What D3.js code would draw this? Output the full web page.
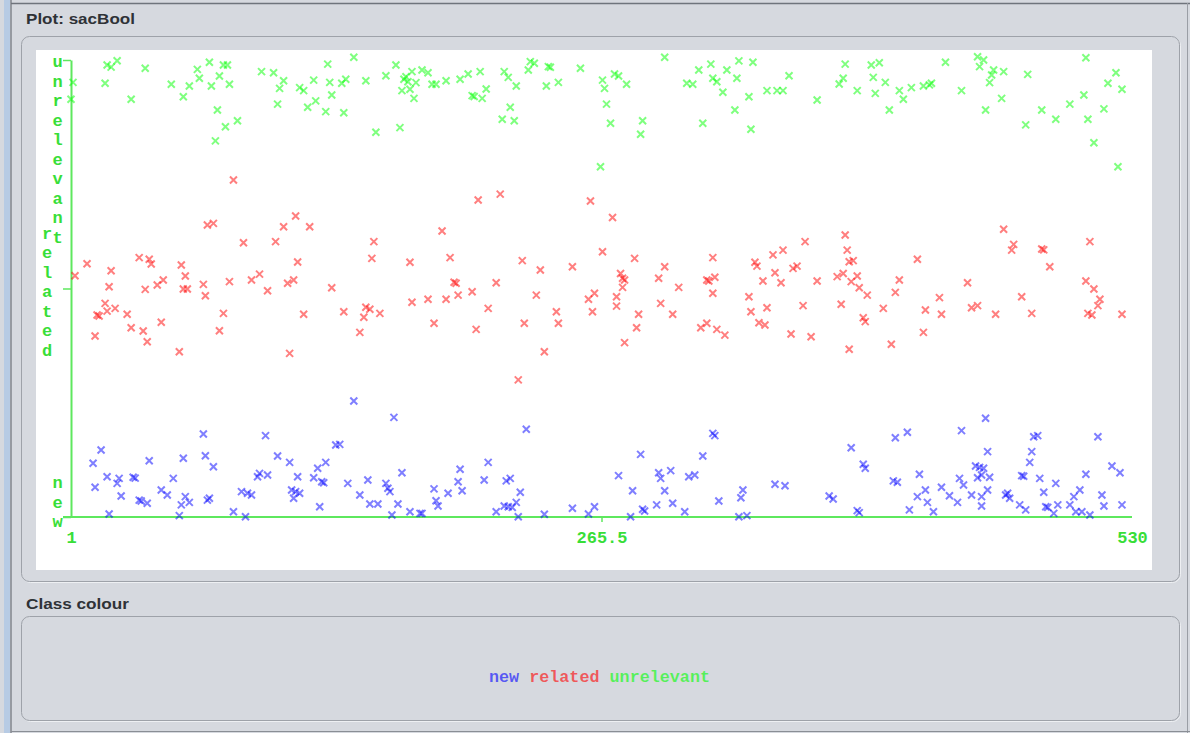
<!DOCTYPE html>
<html>
<head>
<meta charset="utf-8">
<script src="https://cdn.jsdelivr.net/npm/d3@7"></script>
<style>
  html, body { margin: 0; padding: 0; background: #d6d9df; }
  svg { display: block; }
</style>
</head>
<body>
<svg id="chart" width="1190" height="733"></svg>
<script>
// Class values on the Y attribute and instance number on X
const categories = ["new", "related", "unrelevant"];
const xTicks = [1, 265.5, 530];
const plotTitle = "Plot: sacBool";
const legendTitle = "Class colour";

// [instance number, jittered class value]
const newPoints = [
  [16,0.293],[12,0.235],[19,0.176],[13,0.130],[25,0.169],[24,0.147],[26,0.092],[20,0.013],[32,0.174],[33,0.170],
  [35,0.074],[36,0.070],[39,0.060],[40,0.246],[46,0.118],[49,0.096],[52,0.169],[55,0.006],[57,0.257],[58,0.089],
  [56,0.053],[60,0.064],[67,0.363],[68,0.268],[72,0.220],[69,0.074],[70,0.082],[82,0.023],[86,0.111],[89,0.104],
  [91,0.096],[88,0.001],[94,0.176],[95,0.191],[99,0.184],[98,0.356],[104,0.267],[110,0.239],[114,0.176],[111,0.118],
  [113,0.111],[115,0.104],[112,0.082],[125,0.045],[122,0.172],[126,0.154],[127,0.150],[124,0.213],[128,0.239],[133,0.315],
  [142,0.508],[162,0.436],[135,0.318],[139,0.147],[149,0.162],[145,0.096],[150,0.057],[154,0.057],[158,0.147],[159,0.126],
  [160,0.111],[166,0.194],[164,0.057],[161,0.009],[170,0.023],[175,0.016],[176,0.016],[182,0.123],[183,0.071],[184,0.048],
  [189,0.104],[195,0.209],[194,0.154],[196,0.115],[209,0.239],[207,0.162],[218,0.158],[220,0.169],[213,0.023],[217,0.048],
  [219,0.045],[221,0.042],[223,0.064],[225,0.108],[224,0.001],[228,0.384],[237,0.012],[251,0.038],[259,0.013],[262,0.045],
  [274,0.181],[285,0.274],[281,0.115],[280,0.001],[286,0.034],[287,0.026],[293,0.053],[294,0.194],[295,0.169],[300,0.203],
  [297,0.115],[301,0.060],[307,0.023],[309,0.176],[312,0.184],[316,0.267],[321,0.366],[322,0.356],[324,0.070],[336,0.118],
  [335,0.084],[334,0.001],[338,0.006],[352,0.143],[357,0.137],[379,0.092],[381,0.079],[390,0.303],[396,0.231],[397,0.213],
  [393,0.028],[394,0.019],[457,0.432],[445,0.378],[418,0.371],[412,0.347],[481,0.351],[483,0.356],[513,0.351],[458,0.286],
  [480,0.286],[479,0.239],[424,0.187],[413,0.152],[411,0.158],[452,0.223],[454,0.217],[456,0.213],[455,0.184],[453,0.172],
  [459,0.174],[475,0.181],[476,0.178],[484,0.169],[492,0.147],[507,0.187],[520,0.223],[524,0.194],[435,0.130],[444,0.169],
  [446,0.140],[427,0.118],[423,0.089],[428,0.064],[439,0.093],[443,0.064],[450,0.096],[455,0.089],[458,0.118],[455,0.048],
  [467,0.096],[468,0.104],[469,0.082],[419,0.031],[431,0.023],[474,0.053],[477,0.031],[486,0.108],[487,0.045],[488,0.042],
  [493,0.053],[491,0.016],[499,0.053],[501,0.089],[504,0.118],[502,0.023],[505,0.023],[509,0.009],[515,0.096],[516,0.048],
  [525,0.053]
];

const relatedPoints = [
  [3,1.056],[9,1.108],[21,1.078],[20,1.008],[35,1.135],[40,1.128],[41,1.107],[38,0.996],[44,1.015],[47,1.037],
  [56,1.103],[58,1.055],[57,0.998],[59,0.998],[67,1.018],[68,0.968],[69,1.278],[72,1.285],[82,1.475],[80,1.030],
  [87,1.200],[91,1.037],[95,1.063],[99,0.990],[103,1.205],[107,1.270],[113,1.317],[120,1.270],[114,1.116],[109,1.023],
  [112,1.037],[131,1.003],[18,0.935],[14,0.884],[15,0.880],[19,0.901],[23,0.913],[29,0.887],[31,0.828],[37,0.814],
  [39,0.767],[46,0.852],[13,0.792],[55,0.723],[77,0.891],[75,0.815],[110,0.716],[117,0.887],
  [137,0.898],[145,0.808],[147,0.874],[148,0.918],[150,0.909],[155,0.891],[151,1.132],[152,1.205],[170,1.115],[171,0.940],
  [179,0.953],[182,0.848],[186,1.252],[188,0.953],[190,1.135],[192,1.027],[193,1.023],[194,0.971],[201,0.986],[203,0.821],
  [204,1.387],[209,0.913],[213,1.025],[215,1.413],[224,0.600],[226,1.122],[227,0.848],[233,0.971],[235,1.081],[237,0.723],
  [243,0.898],[244,0.848],[251,1.095],[260,1.383],[259,0.953],[262,0.979],[261,0.898],[266,1.161],
  [271,1.311],[282,1.132],[275,1.066],[276,1.045],[277,1.037],[276,1.005],[273,0.964],[273,0.923],[284,0.887],[283,0.828],
  [277,0.763],[297,1.095],[294,1.045],[304,1.005],[295,0.935],[301,0.887],[321,1.135],[318,1.037],[319,1.033],[322,1.049],
  [321,0.979],[315,0.828],[318,0.848],[323,0.821],[327,0.796],[342,1.115],[343,1.098],[351,1.147],[356,1.168],[352,1.069],
  [346,1.033],[355,1.025],[339,0.964],[340,0.898],[348,0.916],[344,0.850],[347,0.840],[360,0.801],[361,1.088],[363,1.098],
  [367,1.205],[373,1.033],[366,0.925],[370,0.789],[387,1.234],[388,1.168],[389,1.117],[391,1.122],[383,1.052],[386,1.066],
  [390,1.030],[393,1.055],[394,1.003],[398,0.971],[385,0.931],[396,0.872],[397,0.855],[389,0.734],
  [406,0.913],[410,0.756],[412,0.983],[414,1.037],[423,1.128],[427,0.906],[426,0.808],[434,0.960],[435,0.887],[448,1.025],
  [450,0.916],[453,0.925],[462,0.887],[466,1.259],[471,1.193],[470,1.168],[475,0.964],[480,0.891],[485,1.173],[486,1.169],
  [489,1.095],[509,1.205],[507,1.033],[511,0.998],[514,0.953],[513,0.925],[508,0.891],[510,0.884],[525,0.887]
];

const unrelevantPoints = [
  [19,1.978],[21,1.969],[24,1.997],[2,1.902],[1,1.828],[18,1.898],[38,1.964],[31,1.828],[51,1.894],[57,1.839],
  [60,1.886],[64,1.959],[65,1.920],[70,1.990],[71,1.886],[75,1.930],[77,1.978],[79,1.978],[80,1.894],[74,1.781],
  [78,1.708],[84,1.734],[73,1.646],[96,1.949],[102,1.944],[107,1.909],[105,1.876],[104,1.807],[115,1.879],[117,1.866],
  [122,1.912],[119,1.793],[123,1.821],[129,1.982],[130,1.902],[131,1.847],[128,1.774],
  [142,2.012],[136,1.898],[138,1.916],[137,1.769],[148,1.909],[153,1.684],[158,1.931],[163,1.978],[167,1.916],[168,1.927],
  [169,1.905],[171,1.949],[173,1.901],[166,1.866],[170,1.872],[172,1.832],[165,1.704],[176,1.956],[179,1.944],[181,1.894],
  [183,1.894],[188,1.909],[195,1.916],[199,1.939],[205,1.949],[201,1.844],[202,1.840],[208,1.873],[206,1.832],[217,1.949],
  [219,1.924],[223,1.886],[220,1.793],[216,1.741],[222,1.734],[229,1.956],[230,1.993],[232,1.986],[239,1.971],[240,1.968],
  [238,1.886],[244,1.902],[255,1.964],[266,1.912],[267,1.876],[268,1.807],[265,1.533],
  [272,1.939],[274,1.930],[278,1.894],[270,1.723],[286,1.734],[285,1.675],[297,2.012],[308,1.898],[311,1.894],[314,1.956],
  [320,1.982],[321,1.920],[323,1.905],[326,1.859],[328,1.956],[333,1.920],[334,1.996],[341,1.990],[339,1.839],[332,1.781],
  [316,1.723],[340,1.697],[348,1.866],[353,1.866],[356,1.866],[359,1.931],[373,1.825],[387,1.982],[386,1.920],[384,1.895],
  [393,1.866],[400,1.978],[401,1.924],[402,1.854],
  [404,1.988],[407,1.902],[409,1.781],[414,1.866],[416,1.828],[420,1.879],[426,1.886],[429,1.891],[430,1.898],[437,1.990],
  [445,1.866],[453,2.014],[456,2.000],[454,1.971],[461,1.956],[460,1.934],[459,1.901],[466,1.949],[465,1.832],[457,1.781],
  [478,1.937],[485,1.781],[477,1.716],[492,1.741],[499,1.807],[507,2.010],[506,1.847],[508,1.741],[511,1.638],[516,1.786],
  [518,1.898],[522,1.944],[525,1.872],[523,1.533]
];

const classColours = { "new": "#0000ff", "related": "#ff0000", "unrelevant": "#00ff00" };
const axisGreen = "#5ee85e";
const textGreen = "#38de38";

const svg = d3.select("#chart");

// ---- window chrome ----
svg.append("rect").attr("x", 4).attr("y", 0).attr("width", 6).attr("height", 733).attr("fill", "#b7cbe4");
svg.append("line").attr("x1", 11).attr("x2", 11).attr("y1", 0).attr("y2", 733).attr("stroke", "#80858d").attr("stroke-width", 1.5);
svg.append("line").attr("x1", 11).attr("x2", 1190).attr("y1", 3.5).attr("y2", 3.5).attr("stroke", "#6f747c").attr("stroke-width", 1.5);
svg.append("line").attr("x1", 1187.5).attr("x2", 1187.5).attr("y1", 3).attr("y2", 733).attr("stroke", "#9a9ea5");
svg.append("line").attr("x1", 11).attr("x2", 1190).attr("y1", 731.5).attr("y2", 731.5).attr("stroke", "#8a8e95");

function panel(x, y, w, h) {
  svg.append("rect").attr("x", x + 1).attr("y", y + 1).attr("width", w).attr("height", h)
    .attr("rx", 8).attr("fill", "none").attr("stroke", "#eef0f3");
  svg.append("rect").attr("x", x).attr("y", y).attr("width", w).attr("height", h)
    .attr("rx", 8).attr("fill", "#d6d9df").attr("stroke", "#9ea2a9");
}

panel(21.5, 36.5, 1158, 545);
panel(21.5, 616.5, 1158, 104);

svg.append("text").attr("x", 26).attr("y", 24)
  .attr("font-family", "'Liberation Sans', Arial, sans-serif").attr("font-weight", "bold")
  .attr("font-size", 15).attr("fill", "#2f3237")
  .attr("textLength", 109).attr("lengthAdjust", "spacingAndGlyphs")
  .text(plotTitle);

svg.append("text").attr("x", 26).attr("y", 609)
  .attr("font-family", "'Liberation Sans', Arial, sans-serif").attr("font-weight", "bold")
  .attr("font-size", 15).attr("fill", "#2f3237")
  .attr("textLength", 103).attr("lengthAdjust", "spacingAndGlyphs")
  .text(legendTitle);

// white plotting canvas
svg.append("rect").attr("x", 36).attr("y", 50).attr("width", 1116).attr("height", 520).attr("fill", "#ffffff");

// ---- scales ----
const x = d3.scaleLinear().domain([1, 530]).range([71, 1132]);
const y = d3.scaleLinear().domain([0, 2]).range([517, 60]);

const monoFont = "'Liberation Mono', 'DejaVu Sans Mono', monospace";

// ---- axes ----
const xAxis = svg.append("g").attr("transform", `translate(0,${y(0)})`)
  .call(d3.axisBottom(x).tickValues(xTicks).tickSize(5).tickPadding(9).tickFormat(d => String(d)));
xAxis.select(".domain").remove();
xAxis.append("line").attr("x1", x(1) - 8).attr("x2", x(530)).attr("y1", 0).attr("y2", 0)
  .attr("stroke", axisGreen).attr("stroke-width", 2);
xAxis.selectAll(".tick line").attr("stroke", axisGreen).attr("stroke-width", 1.5)
  .attr("opacity", d => (d === xTicks[1] ? 1 : 0));
xAxis.selectAll(".tick text").attr("fill", textGreen).attr("font-family", monoFont)
  .attr("font-size", 17).attr("font-weight", "bold");

const yAxis = svg.append("g").attr("transform", `translate(${x(1)},0)`)
  .call(d3.axisLeft(y).tickValues([0, 1, 2]).tickSize(8).tickSizeOuter(0).tickFormat(""));
yAxis.select(".domain").attr("stroke", axisGreen).attr("stroke-width", 2);
yAxis.selectAll(".tick line").attr("stroke", axisGreen).attr("stroke-width", 1.5);

// stacked class labels beside the Y axis
const step = 19.5;
const labelSpecs = [
  { name: categories[2], cx: 57.5, first: y(2) + 7 },
  { name: categories[1], cx: 47, first: y(1) + 8.5 - 3 * step },
  { name: categories[0], cx: 57.5, first: y(0) + 10 - 2 * step }
];
labelSpecs.forEach(spec => {
  svg.append("g").selectAll("text").data(spec.name.split("")).join("text")
    .attr("x", spec.cx).attr("y", (d, i) => spec.first + i * step)
    .attr("text-anchor", "middle").attr("font-family", monoFont).attr("font-size", 17)
    .attr("font-weight", "bold").attr("fill", textGreen).text(d => d);
});

// ---- points ----
const cross = "M-3.5,-3.5L3.5,3.5M-3.5,3.5L3.5,-3.5";
const series = [
  { name: "new", pts: newPoints },
  { name: "related", pts: relatedPoints },
  { name: "unrelevant", pts: unrelevantPoints }
];
series.forEach(s => {
  svg.append("g").selectAll("path").data(s.pts).join("path")
    .attr("d", cross)
    .attr("transform", d => `translate(${x(d[0])},${y(d[1])})`)
    .attr("fill", "none")
    .attr("stroke", classColours[s.name])
    .attr("stroke-opacity", 0.5)
    .attr("stroke-width", 2);
});

// ---- class colour legend ----
const legend = svg.append("text").attr("x", 489).attr("y", 682)
  .attr("font-family", monoFont).attr("font-size", 17).attr("font-weight", "bold")
  .attr("textLength", 221).attr("lengthAdjust", "spacingAndGlyphs");
categories.forEach((c, i) => {
  legend.append("tspan").attr("fill", classColours[c]).attr("fill-opacity", 0.6)
    .text((i > 0 ? " " : "") + c);
});
</script>
</body>
</html>
